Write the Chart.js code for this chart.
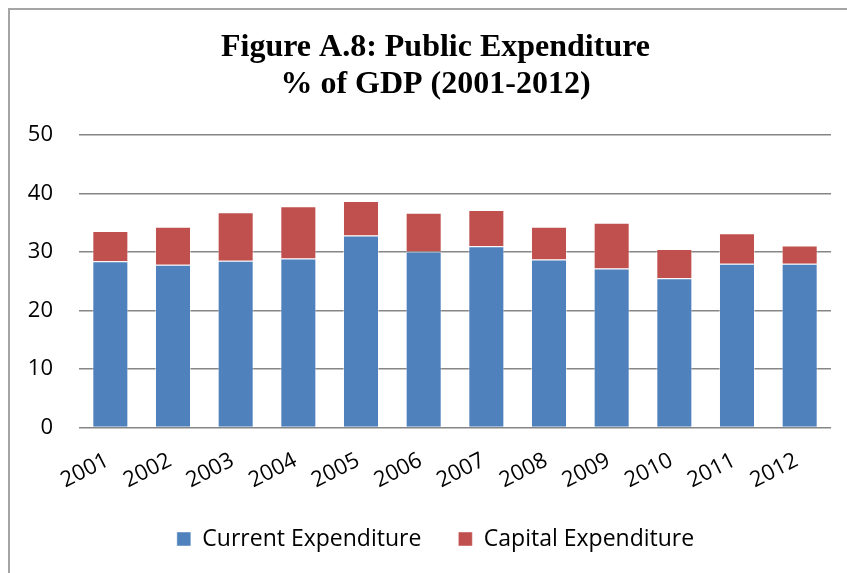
<!DOCTYPE html>
<html><head><meta charset="utf-8">
<script src="https://cdn.jsdelivr.net/npm/chart.js@4.4.0/dist/chart.umd.min.js"></script>
<style>
html,body{margin:0;padding:0;background:#fff;overflow:hidden;width:847px;height:573px}
#frame{position:absolute;left:8px;top:8px;width:1000px;height:800px;border:2px solid #a5a5a5;box-sizing:border-box}
#wrap{position:absolute;left:0;top:0;width:847px;height:573px}
</style></head>
<body>
<div id="frame"></div>
<div id="wrap"><canvas id="c" width="847" height="573"></canvas></div>
<script>
const years = ['2001','2002','2003','2004','2005','2006','2007','2008','2009','2010','2011','2012'];
const currentExp = [28.4, 27.8, 28.5, 28.9, 32.8, 30.1, 31.0, 28.7, 27.2, 25.5, 28.0, 28.0];
const capitalExp = [5.2, 6.5, 8.3, 8.9, 5.9, 6.6, 6.2, 5.6, 7.8, 5.0, 5.2, 3.1];
const yMin = 0, yMax = 50, yStep = 10;
const titleLines = ['Figure A.8: Public Expenditure', '% of GDP (2001-2012)'];
const seriesNames = ['Current Expenditure', 'Capital Expenditure'];

const tickFont = {family: 'Open Sans', size: 22};

new Chart(document.getElementById('c'), {
  type: 'bar',
  data: {
    labels: years,
    datasets: [
      {label: seriesNames[0], data: currentExp, backgroundColor: '#4F81BD', borderColor: 'rgba(255,255,255,0.45)', borderWidth: 1, barPercentage: 0.575, categoryPercentage: 1},
      {label: seriesNames[1], data: capitalExp, backgroundColor: '#C0504D', borderColor: 'rgba(255,255,255,0.45)', borderWidth: 1, barPercentage: 0.575, categoryPercentage: 1}
    ]
  },
  options: {
    responsive: false,
    devicePixelRatio: 1,
    animation: false,
    layout: {padding: {left: 24, right: 0, top: 0, bottom: 12.5}},
    plugins: {
      title: {
        display: true, text: titleLines, color: '#000',
        font: {family: 'Liberation Serif', size: 32, weight: 'bold', lineHeight: 1.15},
        padding: {top: 29.6, bottom: 31.8}
      },
      legend: {
        position: 'bottom',
        labels: {boxWidth: 14, boxHeight: 14, padding: 37, color: '#000', font: {family: 'Open Sans', size: 23}}
      },
      tooltip: {enabled: false}
    },
    scales: {
      x: {
        stacked: true,
        grid: {display: false},
        border: {display: false},
        ticks: {color: '#000', font: tickFont, maxRotation: 27, minRotation: 27, padding: 12, labelOffset: -3},
        afterFit: s => { s.height = 63; }
      },
      y: {
        stacked: true, min: yMin, max: yMax,
        grid: {color: '#868686', lineWidth: 1.5, drawTicks: false},
        border: {display: false},
        ticks: {stepSize: yStep, color: '#000', font: tickFont, padding: 26},
        afterFit: s => { s.width = 55; }
      },
      yRightSpace: {
        position: 'right', display: true,
        grid: {display: false}, border: {display: false},
        ticks: {display: false},
        afterFit: s => { s.width = 16; }
      }
    }
  }
});
</script>
</body></html>
